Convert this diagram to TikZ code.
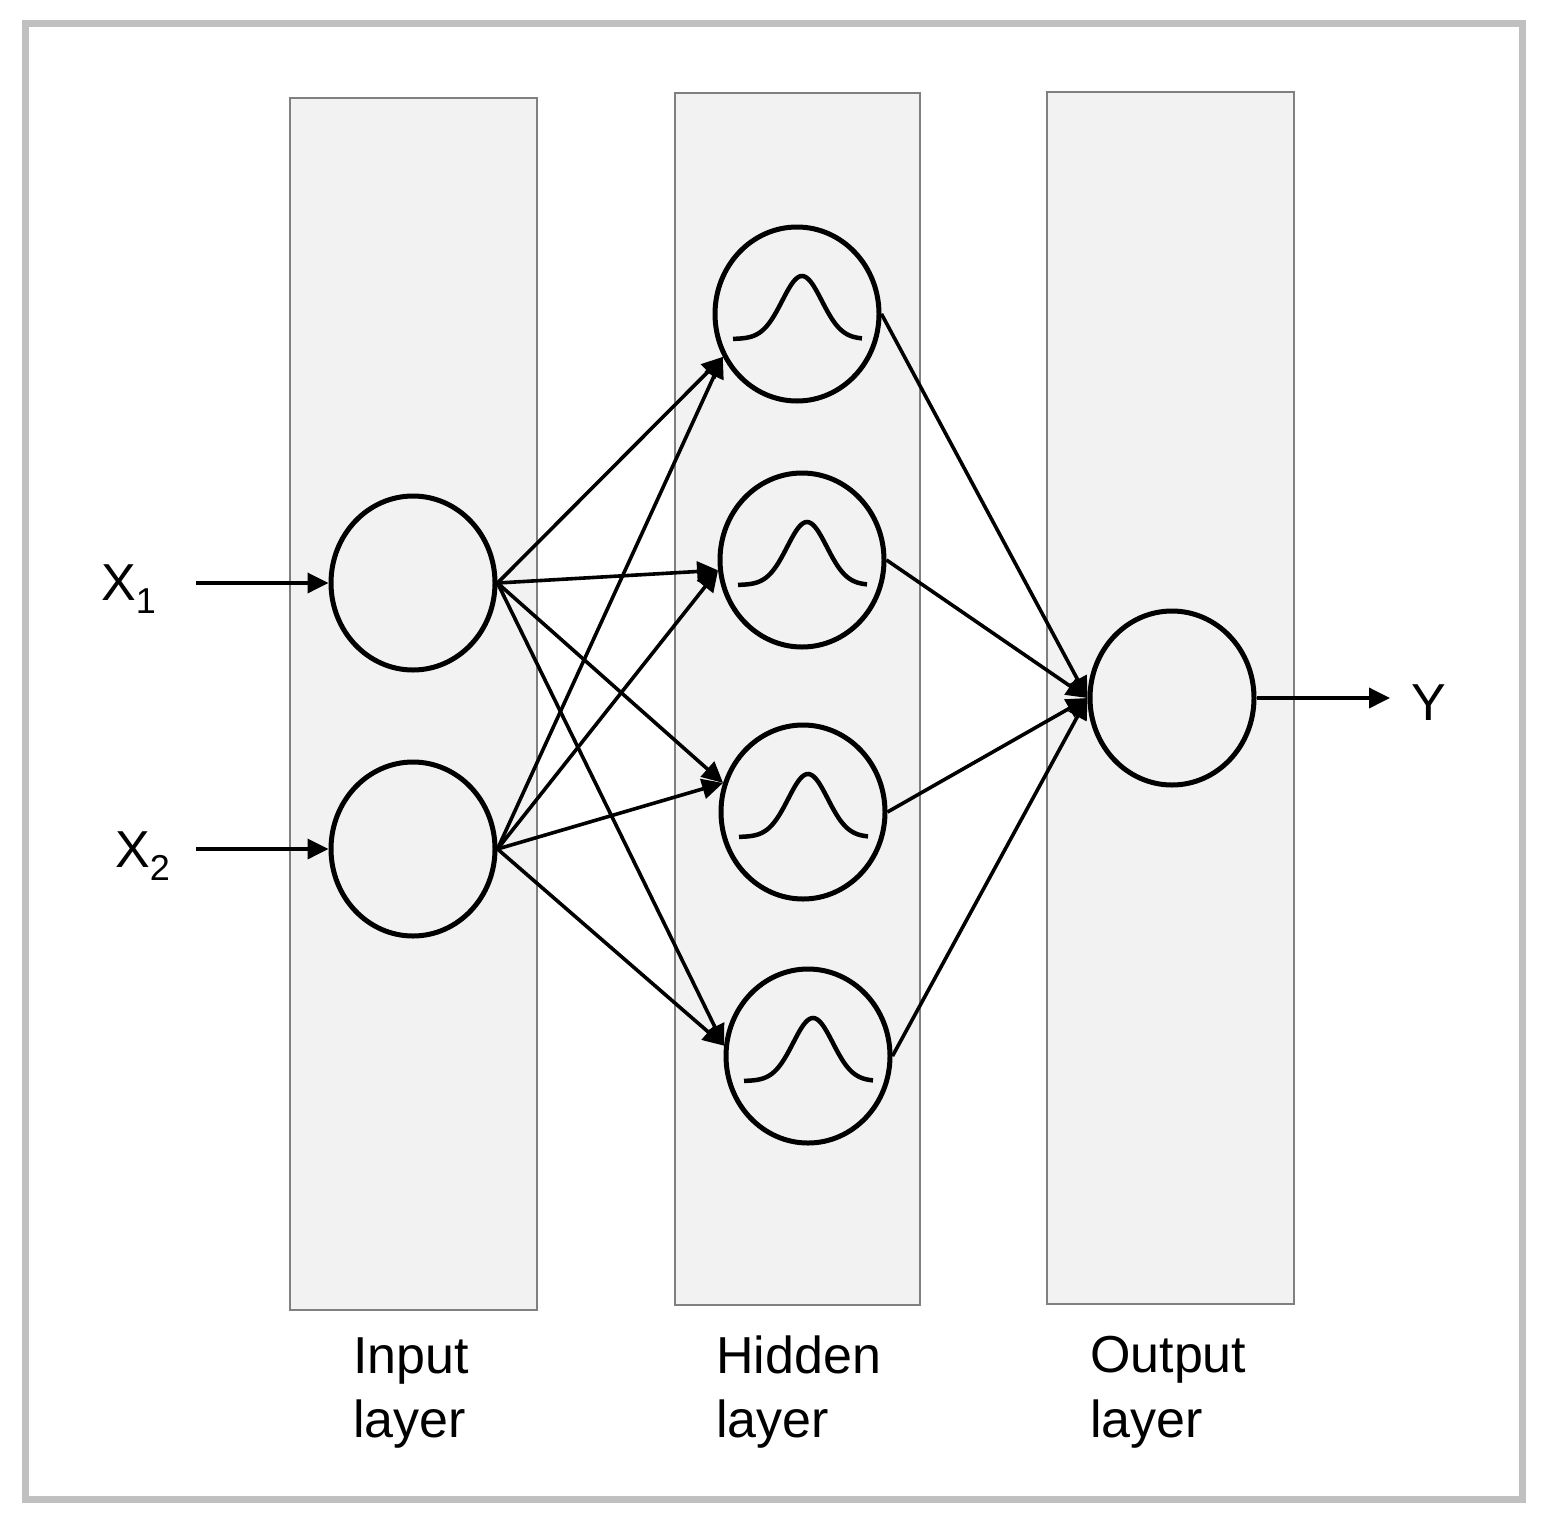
\documentclass[tikz,border=0pt]{standalone}
\usepackage{fontspec}
\setmainfont{Liberation Sans}
\usetikzlibrary{arrows.meta,shapes.geometric}
\definecolor{framegray}{HTML}{C0C0C0}
\definecolor{boxfill}{HTML}{F2F2F2}
\definecolor{boxline}{HTML}{808080}
\tikzset{
  layerbox/.style={draw=boxline, fill=boxfill, line width=1.2pt, inner sep=0pt},
  neuron/.style={ellipse, draw=black, line width=5pt, inner sep=0pt,
                 minimum width=164pt, minimum height=174pt},
  conn/.style={line width=3.6pt, -{Triangle[length=21pt,width=20pt]}},
  gauss/.style={line width=4.5pt},
  bigtext/.style={inner sep=0pt, anchor=base west, font=\fontsize{52}{62}\selectfont},
}
\newcommand{\subnum}[1]{\raisebox{-13pt}{\fontsize{36}{36}\selectfont #1}}
\begin{document}
\begin{tikzpicture}[x=1pt,y=-1pt]
\useasboundingbox (0,0) rectangle (1541,1523);
% outer frame
\draw[framegray, line width=7pt] (25.5,23) rectangle (1522.5,1499.5);
% layer boxes
\node[layerbox, minimum width=247pt, minimum height=1212pt] (Lin) at (413.5,704) {};
\node[layerbox, minimum width=245pt, minimum height=1212pt] (Lhid) at (797.5,699) {};
\node[layerbox, minimum width=247pt, minimum height=1212pt] (Lout) at (1170.5,698) {};
% neurons
\node[neuron] (i1) at (413,583) {};
\node[neuron] (i2) at (413,849) {};
\node[neuron] (h1) at (797,314) {};
\node[neuron] (h2) at (802,560) {};
\node[neuron] (h3) at (803,812) {};
\node[neuron] (h4) at (808,1056) {};
\node[neuron] (o) at (1172,698) {};
% gaussian curves
\foreach \h in {h1,h2,h3,h4}{
  \begin{scope}[shift={(\h.center)}]
    \draw[gauss] plot[domain=-64:65, samples=70, smooth]
      (\x, {25-63*exp(-1*(((\x-5)/28)^2))});
  \end{scope}
}
% inputs and output texts
\node[bigtext] (x1) at (101,600) {X\subnum{1}};
\node[bigtext] (x2) at (115,867) {X\subnum{2}};
\node[bigtext] (y) at (1411,720) {Y};
\coordinate (x1a) at (196,583);
\coordinate (x2a) at (196,849);
\coordinate (ya) at (1390,698);
\draw[conn] (x1a) -- (i1.west);
\draw[conn] (x2a) -- (i2.west);
\draw[conn] (o.east) -- (ya);
% input -> hidden
\foreach \s in {i1,i2}{
  \draw[conn] (\s.east) -- (h1.210);
  \draw[conn] (\s.east) -- (h2.187);
  \draw[conn] (\s.east) -- (h3.160);
  \draw[conn] (\s.east) -- (h4.173);
}
% hidden -> output
\foreach \h in {h1,h2,h3,h4}{
  \draw[conn] (\h.east) -- (o.west);
}
% layer labels
\node[bigtext] (tin1) at (353,1373) {Input};
\node[bigtext] (tin2) at (353,1437) {layer};
\node[bigtext] (thid1) at (716,1373) {Hidden};
\node[bigtext] (thid2) at (716,1437) {layer};
\node[bigtext] (tout1) at (1090,1372) {Output};
\node[bigtext] (tout2) at (1090,1437) {layer};
\end{tikzpicture}
\end{document}
